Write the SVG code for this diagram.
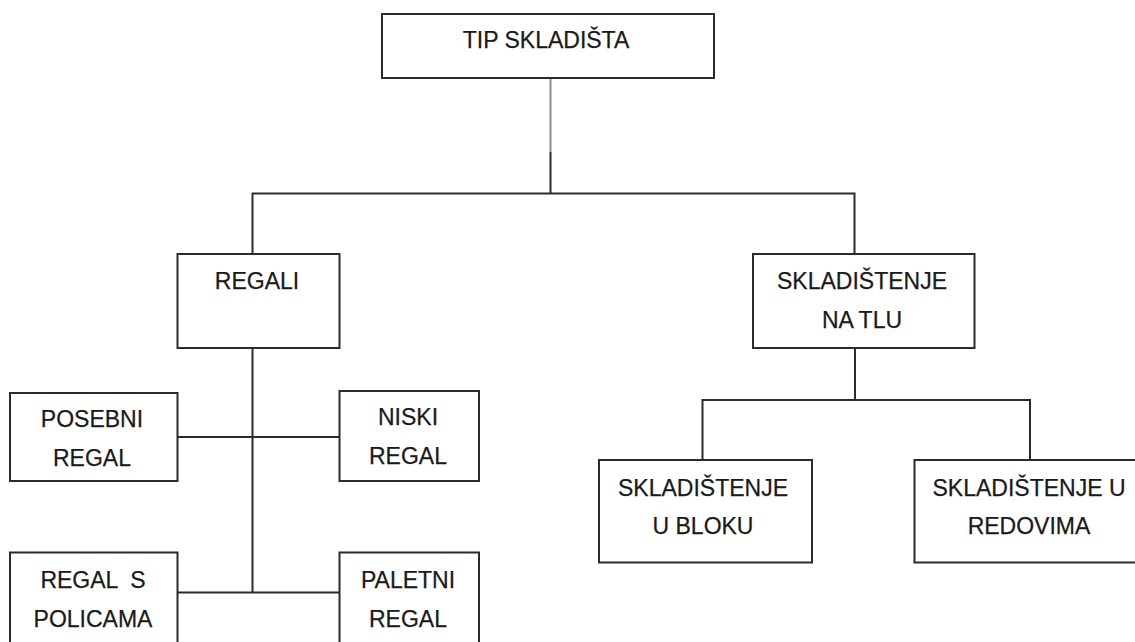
<svg xmlns="http://www.w3.org/2000/svg" width="1135" height="642" viewBox="0 0 1135 642">
<style>
.box{fill:#ffffff;stroke:#2b2b2b;stroke-width:2}
.ln{fill:none;stroke:#2b2b2b;stroke-width:2}
.lg{fill:none;stroke:#8a8a8a;stroke-width:2}
.t{font-family:"Liberation Sans",Arial,sans-serif;font-size:23px;fill:#1a1a1a;stroke:#1a1a1a;stroke-width:0.25;text-anchor:middle;white-space:pre}
</style>
<rect width="1135" height="642" fill="#ffffff"/>
<g id="connectors">
<line class="lg" x1="550.5" y1="79" x2="550.5" y2="152"/>
<line class="ln" x1="550.5" y1="152" x2="550.5" y2="193.5"/>
<polyline class="ln" points="252.5,254 252.5,193.5 854.5,193.5 854.5,254"/>
<line class="ln" x1="252.5" y1="348" x2="252.5" y2="592.5"/>
<line class="ln" x1="177" y1="437" x2="339.5" y2="437"/>
<line class="ln" x1="177" y1="592.5" x2="339.5" y2="592.5"/>
<line class="ln" x1="855" y1="348" x2="855" y2="400"/>
<polyline class="ln" points="702.5,460 702.5,400 1030,400 1030,460"/>
</g>
<g id="tip-skladista"><rect class="box" x="382" y="14" width="332" height="64"/><text class="t" x="546" y="48">TIP SKLADIŠTA</text></g>
<g id="regali"><rect class="box" x="177.5" y="254" width="162" height="94"/><text class="t" x="257" y="289">REGALI</text></g>
<g id="skladistenje-na-tlu"><rect class="box" x="753" y="254" width="221.5" height="94"/><text class="t" x="862" y="289">SKLADIŠTENJE</text><text class="t" x="862" y="328">NA TLU</text></g>
<g id="posebni-regal"><rect class="box" x="10" y="393" width="167.5" height="88"/><text class="t" x="92" y="427">POSEBNI</text><text class="t" x="92" y="466">REGAL</text></g>
<g id="niski-regal"><rect class="box" x="339.5" y="391" width="139.5" height="90"/><text class="t" x="408" y="425">NISKI</text><text class="t" x="408" y="464">REGAL</text></g>
<g id="regal-s-policama"><rect class="box" x="10" y="552.5" width="167.5" height="100"/><text class="t" x="93" y="588">REGAL  S</text><text class="t" x="93" y="627">POLICAMA</text></g>
<g id="paletni-regal"><rect class="box" x="339.5" y="552.5" width="139.5" height="100"/><text class="t" x="408" y="588">PALETNI</text><text class="t" x="408" y="627">REGAL</text></g>
<g id="skladistenje-u-bloku"><rect class="box" x="599" y="460" width="213" height="102.5"/><text class="t" x="703" y="496">SKLADIŠTENJE</text><text class="t" x="703" y="534">U BLOKU</text></g>
<g id="skladistenje-u-redovima"><rect class="box" x="914.5" y="460" width="230" height="102.5"/><text class="t" x="1029" y="496">SKLADIŠTENJE U</text><text class="t" x="1029" y="534">REDOVIMA</text></g>
</svg>
